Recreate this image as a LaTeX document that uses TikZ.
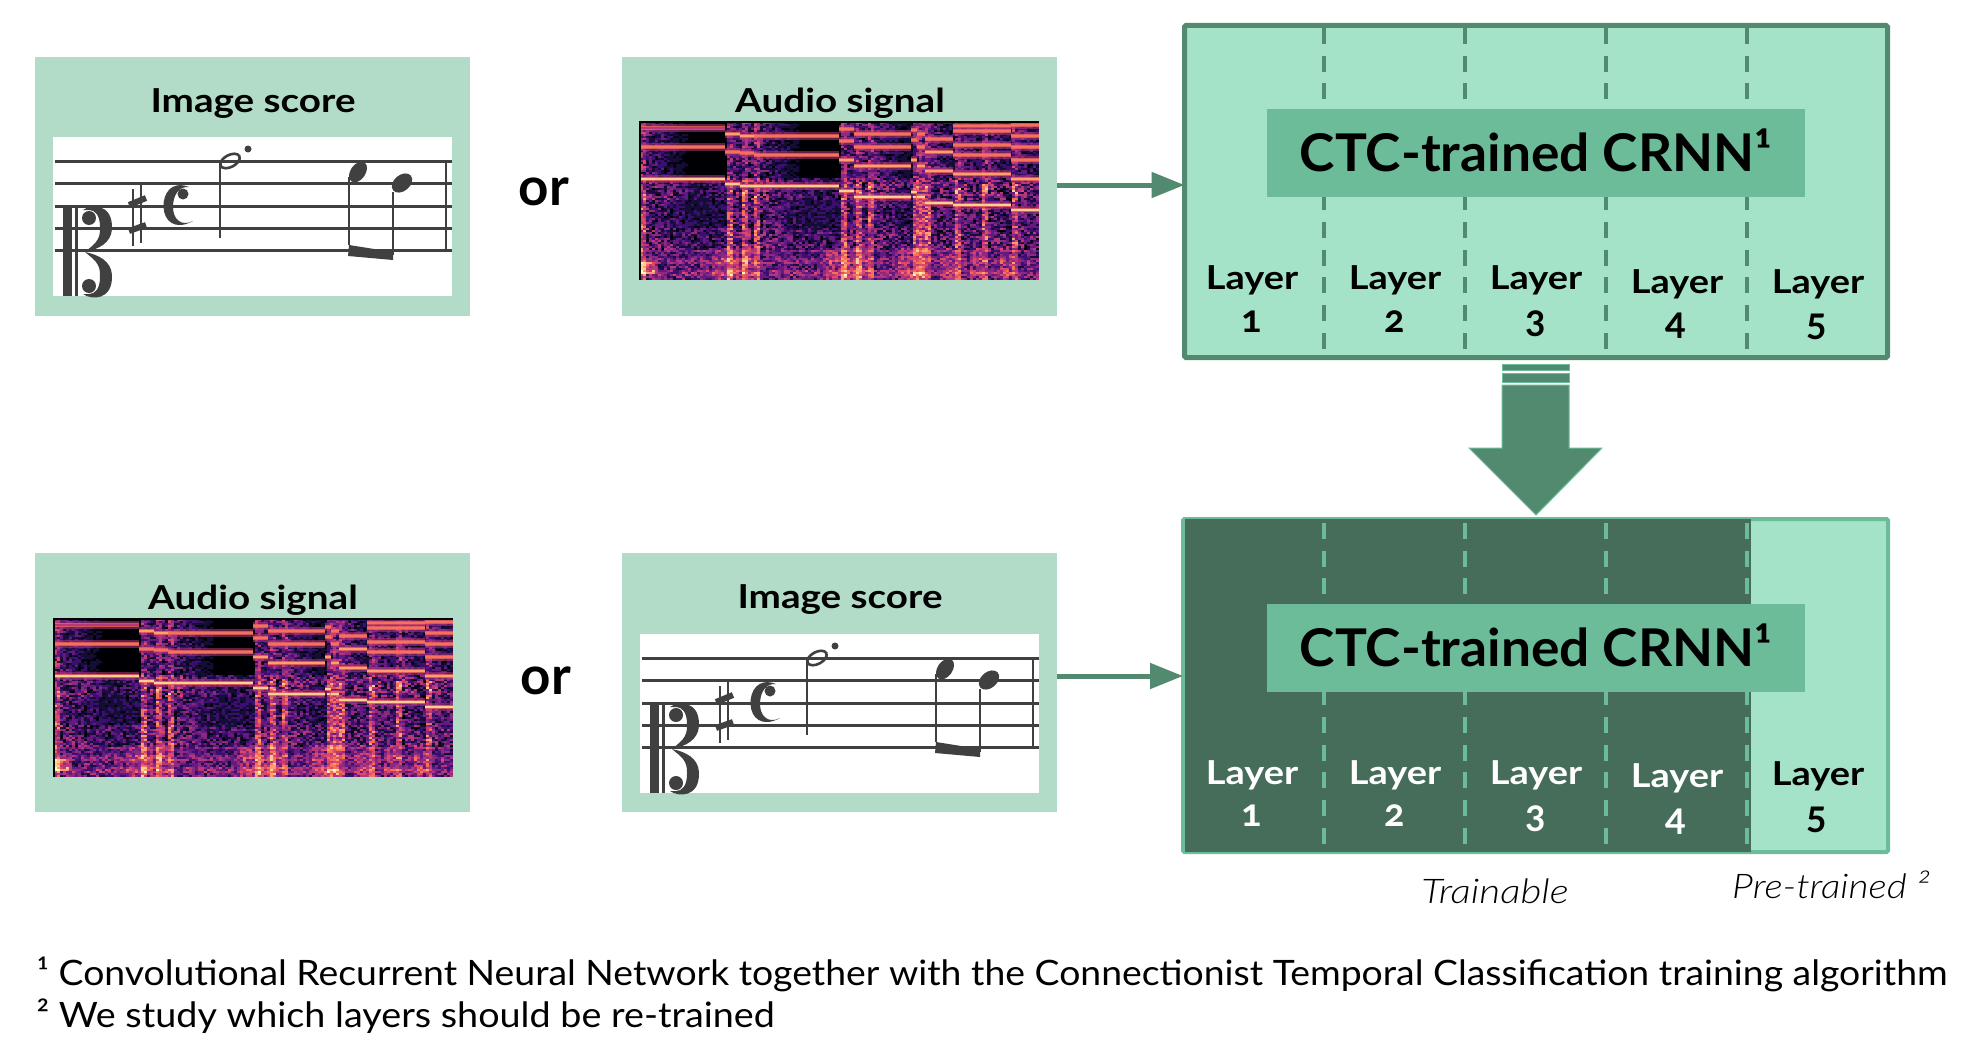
\documentclass[tikz,border=0pt]{standalone}
\usepackage{fontspec}
\setmainfont{Lato}
\newfontfamily\titlefont[FakeStretch=1.17]{Lato}
\newfontfamily\layerfont[FakeStretch=1.15]{Lato}
\newfontfamily\ctcfont[FakeStretch=1.025]{Lato}
\newfontfamily\notefont[FakeStretch=1.067]{Lato}
\newfontfamily\noteBfont[FakeStretch=1.078]{Lato}
\newfontfamily\trainfont[FakeStretch=1.19]{Lato Light Italic}
\newfontfamily\pretfont[FakeStretch=1.14]{Lato Light Italic}
\newfontfamily\numfont[Numbers=OldStyle]{Lato}
\usetikzlibrary{arrows.meta}
\definecolor{panelc}{HTML}{B2DCC8}
\definecolor{lightc}{HTML}{A5E3C8}
\definecolor{midc}{HTML}{6DBC99}
\definecolor{deepc}{HTML}{528A70}
\definecolor{darkc}{HTML}{466D5A}
\definecolor{inkc}{HTML}{404040}
\definecolor{mag0}{HTML}{000004}
\definecolor{mag5}{HTML}{B73779}
\definecolor{mag7}{HTML}{F7705C}
\definecolor{mag8}{HTML}{FE9F6D}
\definecolor{mag9}{HTML}{FECF92}
\definecolor{mag10}{HTML}{FCFDBF}
\expandafter\def\csname magrg1\endcsname{.078 .055 .212 rg}
\expandafter\def\csname magrg2\endcsname{.231 .059 .439 rg}
\expandafter\def\csname magrg3\endcsname{.392 .102 .502 rg}
\expandafter\def\csname magrg4\endcsname{.549 .161 .506 rg}
\expandafter\def\csname magrg5\endcsname{.718 .216 .475 rg}
\expandafter\def\csname magrg6\endcsname{.871 .286 .408 rg}
\expandafter\def\csname magrg7\endcsname{.969 .439 .361 rg}
\expandafter\def\csname magrg8\endcsname{.996 .624 .427 rg}
\expandafter\def\csname magrg9\endcsname{.996 .812 .573 rg}
\expandafter\def\csname magrg10\endcsname{.988 .992 .749 rg}
\newcount\sd \newcount\rr \newcount\on \newcount\nxt \newcount\tsince \newcount\dd
\newcount\amp \newcount\vv \newcount\XX \newcount\YY \newcount\CX \newcount\CY \newcount\prevv
\def\nextr{\global\sd=\numexpr\sd*75+74\relax
 \global\sd=\numexpr\sd-65537*(\sd/65537)\relax
 \ifnum\sd<0 \global\advance\sd by 65537 \fi
 \rr=\numexpr\sd*100/65537\relax}
\def\findonset{\on=0 \nxt=85
 \ifnum\XX>84 \on=85 \nxt=100 \fi
 \ifnum\XX>99 \on=100 \nxt=114 \fi
 \ifnum\XX>113 \on=114 \nxt=199 \fi
 \ifnum\XX>198 \on=199 \nxt=214 \fi
 \ifnum\XX>213 \on=214 \nxt=228 \fi
 \ifnum\XX>227 \on=228 \nxt=271 \fi
 \ifnum\XX>270 \on=271 \nxt=277 \fi
 \ifnum\XX>276 \on=277 \nxt=285 \fi
 \ifnum\XX>284 \on=285 \nxt=313 \fi
 \ifnum\XX>312 \on=313 \nxt=342 \fi
 \ifnum\XX>341 \on=342 \nxt=371 \fi
 \ifnum\XX>370 \on=371 \nxt=500 \fi
 \tsince=\numexpr\XX-\on\relax \dd=\numexpr100-\tsince*2\relax
 \ifnum\dd<0 \dd=0 \fi}
\def\cellvalue{\nextr
 \ifnum\YY<55 \amp=\numexpr\dd*5/10\relax
 \vv=\numexpr\amp*\rr/100\relax
 \else\ifnum\YY<105 \amp=\numexpr22+\dd*3/10\relax
 \ifnum\YY<78 \advance\amp by 12 \fi
 \vv=\numexpr\amp*\rr/100\relax
 \else\ifnum\YY<128 \amp=\numexpr38+\dd*2/10\relax
 \vv=\numexpr\amp*\rr/100\relax
 \else \amp=\numexpr34+(\YY-128)/3\relax
 \vv=\numexpr8+\amp*\rr/100\relax
 \ifodd\numexpr\YY/6\relax \advance\vv by 9 \fi
 \fi\fi\fi
 \ifnum\tsince<6
  \ifnum\YY>60 \advance\vv by 26 \else \advance\vv by 12 \fi
 \fi
 \ifnum\numexpr\nxt-\XX\relax<14 \ifnum\YY>125 \advance\vv by 14 \fi \fi
 \ifnum\XX<15 \ifnum\YY>138 \ifnum\YY<152 \advance\vv by 32 \fi\fi\fi
 \vv=\numexpr\vv/10\relax
 \ifnum\vv>10 \vv=10 \fi}
\makeatletter
\def\specrow{%
 \YY=\numexpr\CY*2\relax \cellvalue
 \ifnum\vv>0
  \ifnum\vv=\prevv\else
   \edef\specout{\specout f \csname magrg\the\vv\endcsname\space}%
   \prevv=\vv
  \fi
  \edef\specout{\specout\the\XX\space\the\YY\space 3.3 2.3 re }%
 \fi
 \advance\CY by 1
 \ifnum\CY<80 \expandafter\specrow\fi}
\def\paintcells#1#2{%
 \pgfmathsetmacro\spe{#1*0.99626}\pgfmathsetmacro\spf{-#2*0.99626}%
 \pgfsys@invoke{q 0.99626 0 0 -0.99626 \spe\space\spf\space cm 0 0 399 158 re W n }%
 \global\sd=1234
 \CX=0
 \loop
  \XX=\numexpr\CX*3\relax \findonset
  \def\specout{}\prevv=-1 \CY=0
  \specrow
  \pgfsys@invoke{\specout f }%
  \advance\CX by 1
 \ifnum\CX<134 \repeat
 \pgfsys@invoke{Q }}
\makeatother
\tikzset{
 panel/.style={rectangle,fill=panelc,draw=none,inner sep=0,outer sep=0,minimum width=435pt,minimum height=259pt},
 sheet/.style={rectangle,fill=white,draw=none,inner sep=0,outer sep=0,minimum width=399pt,minimum height=159pt},
 title/.style={anchor=base,inner sep=0,font=\titlefont\fontsize{33}{36}\selectfont\bfseries},
 ortext/.style={anchor=base,inner sep=0,font=\fontsize{53}{56}\selectfont\bfseries},
 ctcbox/.style={rectangle,fill=midc,inner sep=0,outer sep=0,minimum width=538pt,minimum height=88pt,anchor=north west},
 ctctext/.style={anchor=base,inner sep=0,font=\ctcfont\fontsize{52}{56}\selectfont\bfseries},
 laytext/.style={anchor=base,inner sep=0,font=\layerfont\fontsize{33}{36}\selectfont\bfseries},
 numtext/.style={anchor=base,inner sep=0,font=\numfont\fontsize{38}{40}\selectfont\bfseries},
 notetext/.style={anchor=base west,inner sep=0,font=\notefont\fontsize{35}{38}\selectfont},
 ittext/.style={anchor=base,inner sep=0},
 dashline/.style={line width=4pt,dash pattern=on 16pt off 11.7pt},
 link/.style={draw=deepc,line width=5pt,-{Triangle[length=33pt,width=25pt]}},
 bigarrow/.style={fill=deepc,draw=midc,line width=1pt}
}
% spectrogram, local origin at top-left
\newcommand{\drawspectro}[2]{%
\fill[mag0] (#1,#2) rectangle ++(399,158);
\paintcells{#1}{#2}%
\begin{scope}[shift={(#1,#2)}]
 \foreach \xa/\xb/\yy/\cl in {0/85/6/5,0/85/25/7,0/85/57/9,
  85/100/12/8,85/100/30/7,85/100/62/9,
  100/114/14/8,100/114/31/7,100/114/64/9,
  114/199/14/7,114/199/33/7,114/199/64/9,
  199/214/7/7,199/214/19/7,199/214/38/8,199/214/69/9,
  214/271/12/7,214/271/25/7,214/271/44/8,214/271/75/9,
  271/277/8/7,271/277/18/7,271/277/38/8,271/277/70/9,
  277/285/12/7,277/285/25/7,277/285/44/8,277/285/75/9,
  285/313/17/7,285/313/30/8,285/313/49/8,285/313/81/9,
  313/371/4/7,313/371/9/7,313/371/23/7,313/371/33/7,313/371/52/8,313/371/83/9,
  371/399/3/7,371/399/14/7,371/399/25/7,371/399/38/7,371/399/57/8,371/399/88/9}{%
  \fill[mag5,opacity=.55] (\xa,\yy-4) rectangle (\xb,\yy+4);
  \fill[mag7,opacity=.7] (\xa,\yy-2.4) rectangle (\xb,\yy+2.4);
  \fill[mag\cl] (\xa,\yy-1.2) rectangle (\xb,\yy+1.2);
 }%
 \draw[black,line width=1.2pt] (0,158) -- (0,0) -- (399,0);
\end{scope}}
% score, local origin at top-left of the white sheet
\newcommand{\drawscore}[2]{%
\begin{scope}[shift={(#1,#2)}]
 \foreach \yy in {24,46,69,91,113}{\draw[inkc,line width=3pt] (1.5,\yy) -- (399,\yy);}
 \draw[inkc,line width=2.5pt] (393,24) -- (393,113);
 \fill[inkc] (10,71) rectangle (19,159);
 \fill[inkc] (22,71) rectangle (24.5,159);
 \foreach \mm in {0,1}{%
  \begin{scope}[shift={(0,\mm*230)},yscale={1-2*\mm}]
  \fill[inkc] (30,73) .. controls (38,67) and (60,66) .. (59,92) .. controls (58,106) and (46,112) .. (32,115)
   .. controls (40,108) and (48,104) .. (47,90) .. controls (47,78) and (42,73) .. (36,73) -- cycle;
  \fill[inkc] (36,81) circle (7);
  \end{scope}}
 \draw[inkc,line width=2.4pt] (80,52) -- (80,109);
 \draw[inkc,line width=2.4pt] (88,48) -- (88,106);
 \draw[inkc,line width=6pt] (76,68) -- (93,61);
 \draw[inkc,line width=6pt] (76,94) -- (93,88);
 \fill[inkc] (136,50) .. controls (118,43) and (110,57) .. (110.5,70) .. controls (111,84) and (122,94) .. (140,84)
   .. controls (128,90) and (120,82) .. (120,70) .. controls (120,58) and (126,49) .. (136,50) -- cycle;
 \fill[inkc] (130,57) circle (5.5);
 \draw[inkc,line width=2.6pt,rotate around={28:(177,24)}] (177,24) ellipse (10.5 and 6);
 \draw[inkc,line width=1.8pt] (167,28) -- (167,101);
 \fill[inkc] (195,12) circle (3.5);
 \fill[inkc,rotate around={55:(305,35)}] (305,35) ellipse (11.5 and 7.5);
 \fill[inkc,rotate around={40:(349,46)}] (349,46) ellipse (11.5 and 8);
 \draw[inkc,line width=1.8pt] (296,40) -- (296,108);
 \draw[inkc,line width=1.8pt] (340,55) -- (340,118);
 \fill[inkc] (296,108) -- (340,115) -- (340,123) -- (295,119) -- cycle;
\end{scope}}
\begin{document}
\begin{tikzpicture}[x=1pt,y=-1pt]
\useasboundingbox (0,0) rectangle (1980,1054);
\fill[white] (0,0) rectangle (1980,1054);
% input panels
\node[panel] (p1) at (252.5,186.5) {};
\node[panel] (p2) at (839.5,186.5) {};
\node[panel] (p3) at (252.5,682.5) {};
\node[panel] (p4) at (839.5,682.5) {};
\node[sheet] (s1) at (252.5,216.5) {};
\node[sheet] (s4) at (839.5,713) {};
\drawscore{53}{137}
\drawscore{640}{634}
\drawspectro{640}{122}
\drawspectro{54}{619}
\node[title] (t1) at (253,113) {Image score};
\node[title] (t2) at (840,113) {Audio signal};
\node[title] (t3) at (253,609) {Audio signal};
\node[title] (t4) at (840,608) {Image score};
\node[ortext] (or1) at (544,205) {or};
\node[ortext] (or2) at (546,694) {or};
% network 1
\node[rectangle,fill=lightc,draw=deepc,line width=5pt,rounded corners=1.5pt,inner sep=0,outer sep=0,minimum width=703pt,minimum height=332pt] (b1) at (1536,191.5) {};
\foreach \xx in {1324,1465,1606,1747}{\draw[deepc,dashline] (\xx,28) -- (\xx,349);}
\node[ctcbox] (c1) at (1267,109) {};
\node[ctctext] (ct1) at (1536,171) {CTC-trained CRNN¹};
\node[laytext] (l11) at (1252,289) {Layer};
\node[laytext] (l12) at (1395,289) {Layer};
\node[laytext] (l13) at (1536,289) {Layer};
\node[laytext] (l14) at (1677,293) {Layer};
\node[laytext] (l15) at (1818,293) {Layer};
\node[numtext] (n11) at (1252,332) {1};
\node[numtext] (n12) at (1395,332) {2};
\node[numtext] (n13) at (1536,332) {3};
\node[numtext] (n14) at (1676,334) {4};
\node[numtext] (n15) at (1817,335) {5};
% network 2
\node[rectangle,fill=lightc,draw=midc,line width=4pt,rounded corners=1.5pt,inner sep=0,outer sep=0,minimum width=705pt,minimum height=333pt] (b2) at (1535.5,685.5) {};
\fill[darkc] (1185,519) rectangle (1751,852);
\foreach \xx in {1324,1465,1606,1747}{\draw[midc,dashline] (\xx,523) -- (\xx,845);}
\node[ctcbox] (c2) at (1267,604) {};
\node[ctctext] (ct2) at (1536,666) {CTC-trained CRNN¹};
\node[laytext,text=white] (l21) at (1252,784) {Layer};
\node[laytext,text=white] (l22) at (1395,784) {Layer};
\node[laytext,text=white] (l23) at (1536,784) {Layer};
\node[laytext,text=white] (l24) at (1677,787) {Layer};
\node[laytext] (l25) at (1818,785) {Layer};
\node[numtext,text=white] (n21) at (1252,826) {1};
\node[numtext,text=white] (n22) at (1395,826) {2};
\node[numtext,text=white] (n23) at (1536,827) {3};
\node[numtext,text=white] (n24) at (1676,830) {4};
\node[numtext] (n25) at (1817,828) {5};
% connectors
\coordinate (a1) at ([yshift=1.5pt]p2.east);
\coordinate (a2) at ([yshift=6.5pt]p4.east);
\draw[link] (a1) -- (a1 -| b1.west);
\draw[link] (a2) -- (a2 -| b2.west);
% big arrow
\path[bigarrow] (1502,364) rectangle (1569,370);
\path[bigarrow] (1502,373) rectangle (1569,382);
\path[bigarrow] (1502,385) -- (1569,385) -- (1569,448) -- (1602,448) -- (1536,515) -- (1469,448) -- (1502,448) -- cycle;
% captions
\node[ittext] (tr) at (1495,903) {\trainfont\fontsize{34}{38}\selectfont Trainable};
\node[ittext,anchor=base west] (pt) at (1732,898) {\pretfont\fontsize{34}{38}\selectfont Pre-trained ²};
\node[notetext] (f1) at (36.5,985) {¹ Convolutional Recurrent Neural Network together with the Connectionist Temporal Classification training algorithm};
\node[notetext] (f2) at (36.5,1027) {\noteBfont\fontsize{35}{38}\selectfont ² We study which layers should be re-trained};
\end{tikzpicture}
\end{document}
